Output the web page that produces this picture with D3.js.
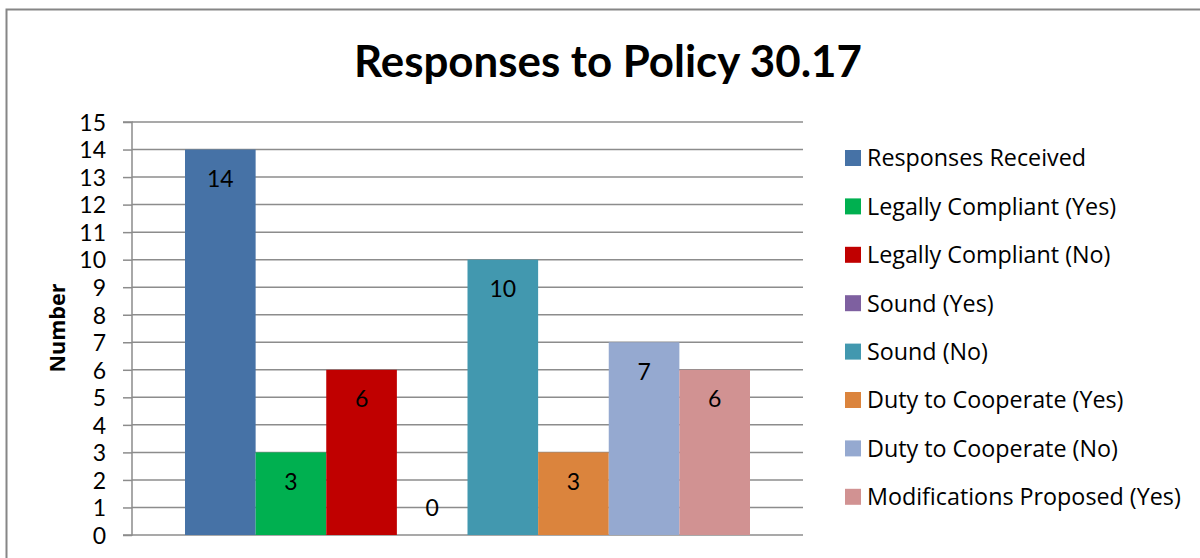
<!DOCTYPE html>
<html><head><meta charset="utf-8">
<script src="https://cdnjs.cloudflare.com/ajax/libs/d3/7.8.5/d3.min.js"></script>
<style>html,body{margin:0;padding:0;background:#fff;}svg{display:block;}</style>
</head><body>
<script>
const title = "Responses to Policy 30.17";
const yAxisTitle = "Number";
const seriesNames = ["Responses Received","Legally Compliant (Yes)","Legally Compliant (No)","Sound (Yes)","Sound (No)","Duty to Cooperate (Yes)","Duty to Cooperate (No)","Modifications Proposed (Yes)"];
const seriesValues = [14, 3, 6, 0, 10, 3, 7, 6];
const seriesColors = ["#4672A6","#00B050","#C00000","#7E60A0","#4298AF","#DB843D","#95A9D0","#D19292"];
const yTicks = [0,1,2,3,4,5,6,7,8,9,10,11,12,13,14,15];

const W = 1200, H = 558;
const font = "Lato, 'Open Sans', sans-serif";
const font2 = "'Open Sans', Lato, sans-serif";
const svg = d3.select("body").append("svg").attr("width", W).attr("height", H);

svg.append("rect").attr("x", 6.5).attr("y", 9.5).attr("width", W).attr("height", H)
  .attr("fill", "#fff").attr("stroke", "#868686").attr("stroke-width", 2);

const plot = {left: 132, right: 803, top: 122, bottom: 535};
const y = d3.scaleLinear().domain([0, 15]).range([plot.bottom, plot.top]);
const x = d3.scaleBand().domain(seriesNames).range([185, 750]).padding(0);

// gridlines
svg.append("g").selectAll("line").data(yTicks).join("line")
  .attr("x1", plot.left).attr("x2", plot.right)
  .attr("y1", d => y(d)).attr("y2", d => y(d))
  .attr("stroke", "#8c8c8c").attr("stroke-width", 1.5);

// y axis
const yAxis = d3.axisLeft(y).tickValues(yTicks).tickSize(9).tickPadding(17).tickFormat(d3.format("d"));
const ga = svg.append("g").attr("transform", `translate(${plot.left},0)`).call(yAxis);
ga.select(".domain").attr("stroke", "#8c8c8c").attr("stroke-width", 1.5).attr("d", `M-9,${plot.top}H0V${plot.bottom}H-9`);
ga.selectAll(".tick line").attr("stroke", "#8c8c8c").attr("stroke-width", 1.5);
ga.selectAll(".tick text").attr("font-family", font).attr("font-size", 23).attr("fill", "#000").attr("dy", "0.36em");

// bars
svg.append("g").selectAll("rect").data(seriesValues).join("rect")
  .attr("x", (d, i) => x(seriesNames[i])).attr("width", x.bandwidth())
  .attr("y", d => y(d)).attr("height", d => y(0) - y(d))
  .attr("fill", (d, i) => seriesColors[i]);

// labels
svg.append("g").selectAll("text").data(seriesValues).join("text")
  .attr("x", (d, i) => x(seriesNames[i]) + x.bandwidth() / 2)
  .attr("y", d => d > 1 ? y(d) + 29 : y(0) - 27)
  .attr("dy", "0.36em").attr("text-anchor", "middle")
  .attr("font-family", font).attr("font-size", 23).attr("fill", "#000")
  .text(d => d);

// title
const t = svg.append("text").attr("x", 608).attr("y", 77).attr("text-anchor", "middle")
  .attr("font-family", font).attr("font-weight", "bold").attr("font-size", 46).attr("fill", "#000")
  .text(title);
const tw = t.node().getComputedTextLength();
t.attr("font-size", 46 * 508 / tw);

// y axis title
const yt = svg.append("text").attr("transform", `translate(65,328) rotate(-90)`).attr("text-anchor", "middle")
  .attr("font-family", font2).attr("font-weight", "bold").attr("font-size", 21).attr("fill", "#000")
  .text(yAxisTitle);
const ytw = yt.node().getComputedTextLength();
yt.attr("font-size", Math.min(24, 21 * 89 / ytw));

// legend
const lg = svg.append("g").selectAll("g").data(seriesNames).join("g")
  .attr("transform", (d, i) => `translate(845,${158 + i * 48.4})`);
lg.append("rect").attr("x", 0).attr("y", -8).attr("width", 16).attr("height", 16)
  .attr("fill", (d, i) => seriesColors[i]);
const lt = lg.append("text").attr("x", 22).attr("y", 0).attr("dy", "0.36em")
  .attr("font-family", font2).attr("font-size", 22).attr("fill", "#000").text(d => d);
const lw = lt.nodes()[seriesNames.length - 1].getComputedTextLength();
lt.attr("font-size", Math.min(24, 22 * 314 / lw));
</script>
</body></html>
